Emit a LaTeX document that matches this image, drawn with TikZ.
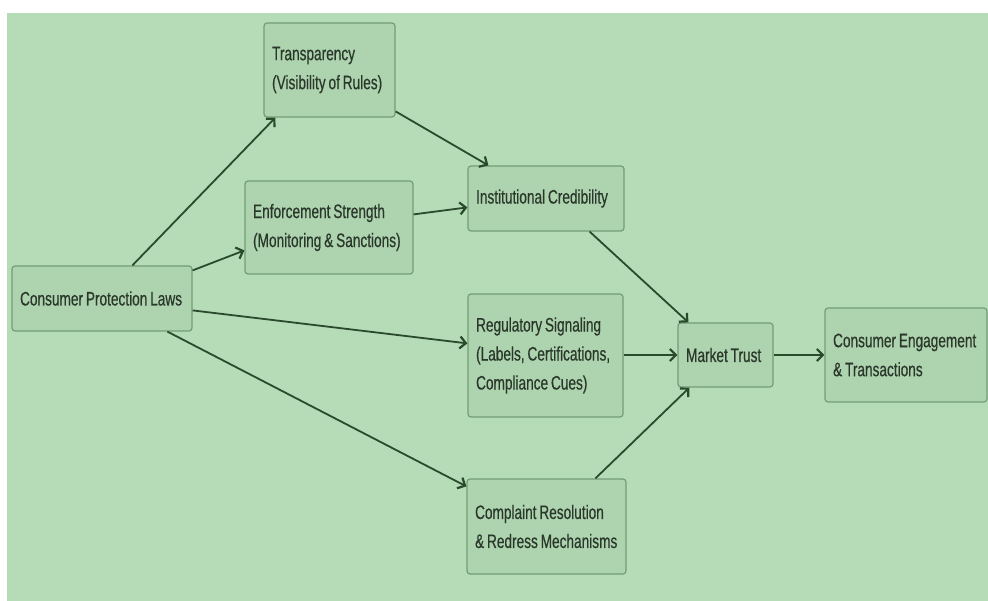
\documentclass[tikz,border=0pt]{standalone}
\usepackage{fontspec}
\setmainfont{Liberation Sans}[FakeStretch=0.7,WordSpace=0.75,FakeBold=0.5]
\usetikzlibrary{arrows.meta}
\definecolor{bgc}{HTML}{B6DBB7}
\definecolor{boxfill}{HTML}{AED4AF}
\definecolor{boxline}{HTML}{739D75}
\definecolor{arrowc}{HTML}{2A4A2C}
\definecolor{textc}{HTML}{2A382B}
\tikzset{
  stepbox/.style={draw=boxline, fill=boxfill, line width=1.2pt, rounded corners=3pt,
    inner sep=0pt},
  boxtext/.style={anchor=west, inner sep=0pt, align=left, text=textc,
    font=\fontsize{19.5}{29}\selectfont},
  link/.style={draw=arrowc, line width=1.8pt, -{Straight Barb[length=6pt,width=12pt,line width=2.2pt]}}
}
\newcommand{\mybox}[6]{% name, l, t, r, b, text
  \node[stepbox, minimum width={#4-#2}, minimum height={#5-#3}]
    (#1) at ({(#2+#4)/2},{(#3+#5)/2}) {};
  \node[boxtext] (#1-t) at ([xshift=8.5pt]#1.west) {#6};}
\begin{document}
\begin{tikzpicture}[x=1pt,y=-1pt]
\useasboundingbox (0,0) rectangle (988,601);
\fill[white] (0,0) rectangle (988,601);
\fill[bgc] (7,13) rectangle (988,601);
\mybox{cpl}{12}{266}{192}{331}{Consumer Protection Laws}
\mybox{trans}{264}{23}{395}{117}{Transparency\\(Visibility of Rules)}
\mybox{enf}{245}{181}{413}{274}{Enforcement Strength\\(Monitoring \& Sanctions)}
\mybox{inst}{468}{166}{624}{231}{Institutional Credibility}
\mybox{reg}{468}{294}{623}{417}{Regulatory Signaling\\(Labels, Certifications,\\Compliance Cues)}
\mybox{comp}{467}{479}{626}{574}{Complaint Resolution\\\& Redress Mechanisms}
\mybox{mt}{678}{323}{773}{387}{Market Trust}
\mybox{ce}{825}{308}{987}{402}{Consumer Engagement\\\& Transactions}
% connectors
\draw[link] ([xshift=121pt]cpl.north west) -- ([xshift=12pt]trans.south west);
\draw[link] ([yshift=-5pt]cpl.north east) -- ([yshift=-70pt]enf.north west);
\draw[link] ([yshift=-89pt]trans.north east) -- ([xshift=21pt]inst.north west);
\draw[link] ([yshift=-34pt]enf.north east) -- ([yshift=-42pt]inst.north west);
\draw[link] ([xshift=-35pt]inst.south east) -- ([xshift=11pt]mt.north west);
\draw[link] ([yshift=-45pt]cpl.north east) -- ([yshift=-50pt]reg.north west);
\draw[link] (reg.east |- mt.west) -- (mt.west);
\draw[link] ([xshift=156pt]cpl.south west) -- ([yshift=-8pt]comp.north west);
\draw[link] ([xshift=129pt]comp.north west) -- ([xshift=12pt]mt.south west);
\draw[link] (mt.east) -- (ce.west |- mt.east);
\end{tikzpicture}
\end{document}
